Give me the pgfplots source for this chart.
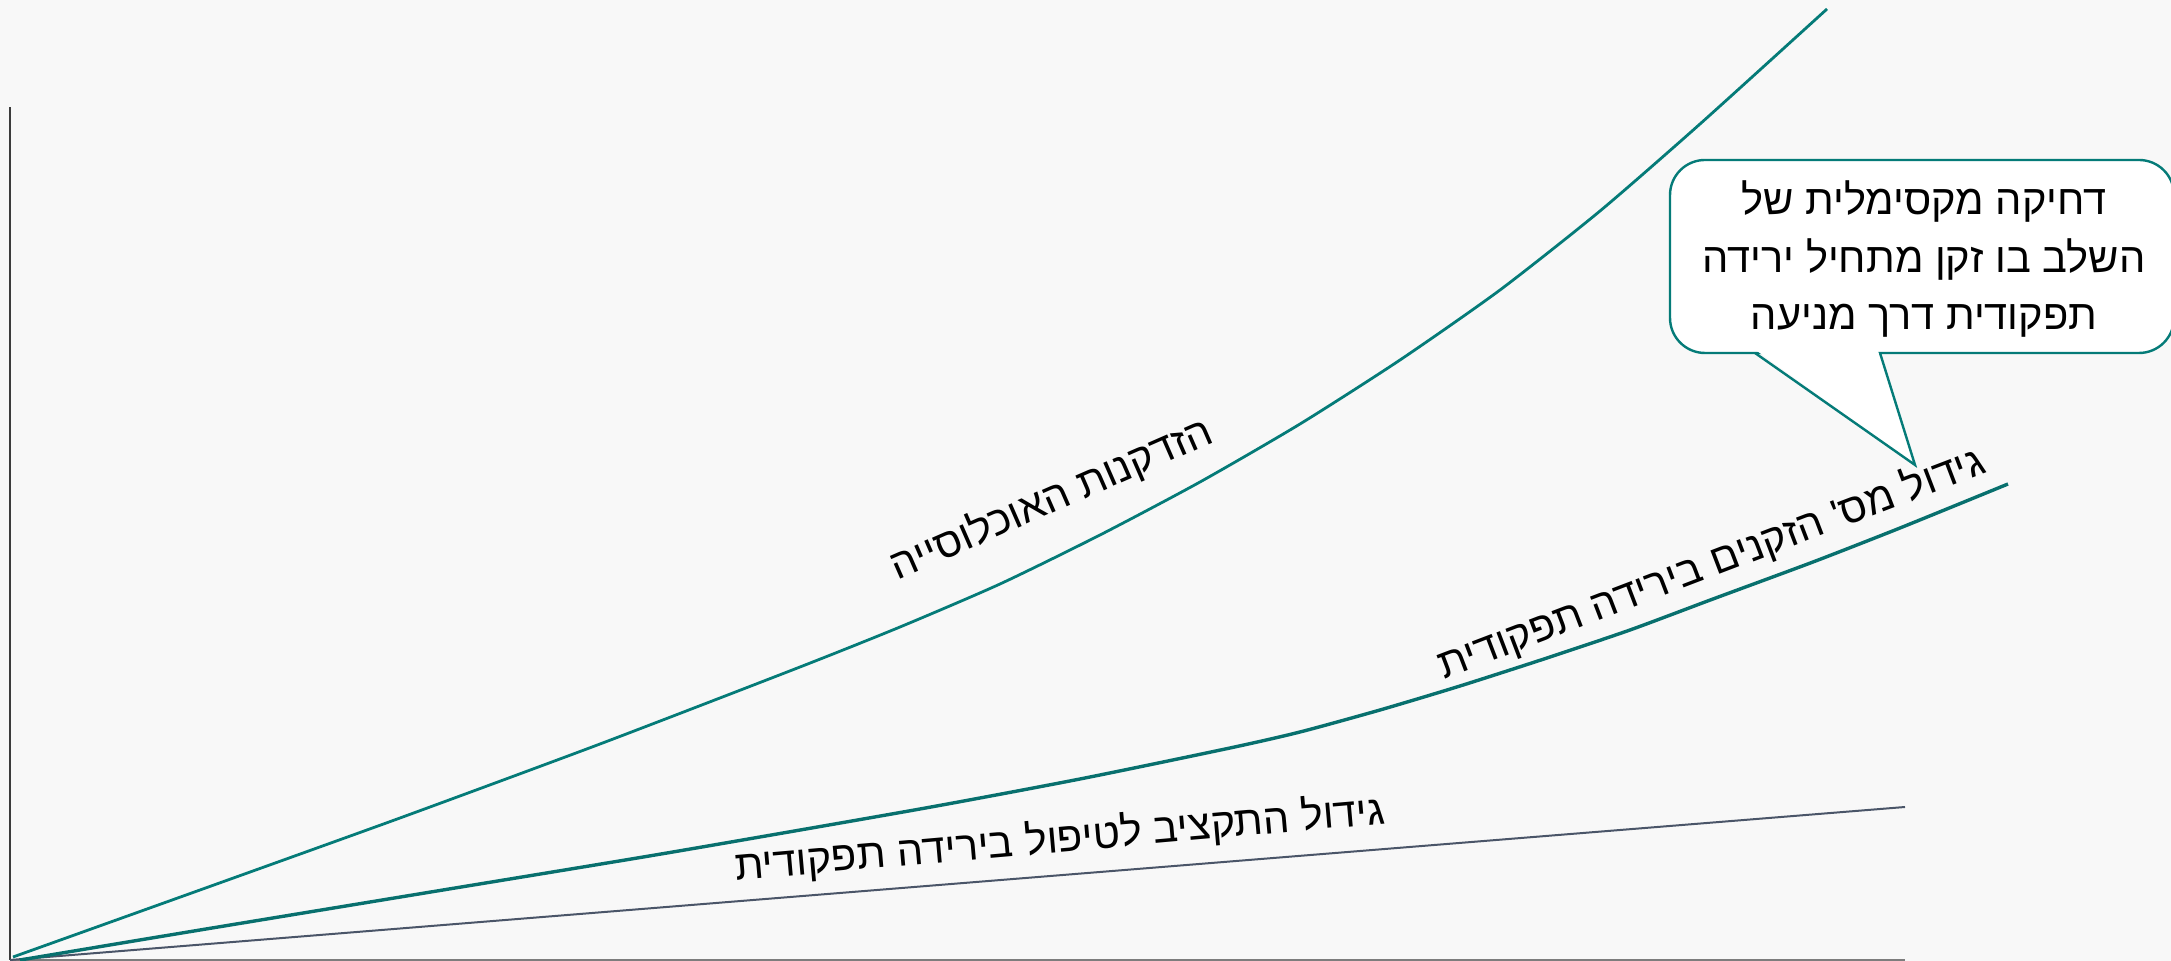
\documentclass[border=0pt]{standalone}
\usepackage{pgfplots}
\pgfplotsset{compat=1.18}
\usepackage{fontspec}
\usetikzlibrary{backgrounds}
\setmainfont{Liberation Sans}
\newfontfamily\heb[Script=Hebrew]{Liberation Sans}
\TeXXeTstate=1
\definecolor{bg}{RGB}{248,248,248}
\definecolor{tealA}{RGB}{5,123,120}
\definecolor{tealB}{RGB}{8,112,110}
\definecolor{slate}{RGB}{74,85,104}
\definecolor{xax}{RGB}{125,125,125}
\definecolor{yax}{RGB}{60,60,60}
\newcommand{\fs}{\fontsize{10.4}{13}\selectfont}
\begin{document}
\begin{tikzpicture}
\begin{axis}[
  x=0.25pt, y=0.25pt,
  xmin=10, xmax=1905, ymin=0, ymax=853,
  axis x line=bottom, axis y line=left,
  axis line style={-},
  x axis line style={draw=xax, line width=0.45pt},
  y axis line style={draw=yax, line width=0.4pt},
  ticks=none,
  clip=false,
]
\coordinate (BL) at (axis cs:0,-1);
\coordinate (TR) at (axis cs:2171,960);
% budget growth
\addplot[slate, line width=0.5pt] coordinates {(10,0) (1905,153)};
% elderly in functional decline
\addplot[tealB, line width=0.85pt, smooth, tension=0.4] coordinates {
(20,0) (200,30) (443,70) (667,107) (920,151) (1080,181) (1230,212) (1300,228)
(1380,250) (1460,274) (1547,302) (1630,330) (1713,361) (1813,398) (1900,432) (2008,476)};
% population aging
\addplot[tealA, line width=0.7pt, smooth, tension=0.4] coordinates {
(13,3) (200,70) (400,142) (600,216) (800,293) (900,333) (1000,376) (1100,425)
(1200,478) (1300,536) (1400,600) (1500,670) (1600,749) (1700,836) (1827,951)};
% labels
\node[rotate=23.6, anchor=base] at (axis cs:1057,449) {\heb\fs\beginR הזדקנות האוכלוסייה\endR};
\node[rotate=20.9, anchor=base] at (axis cs:1716,384) {\heb\fs\beginR גידול מס' הזקנים בירידה תפקודית\endR};
\node[rotate=5, anchor=base] at (axis cs:1061,108) {\heb\fs\beginR גידול התקציב לטיפול בירידה תפקודית\endR};
% callout
\draw[tealA, line width=0.6pt, fill=white, rounded corners=8.75pt] (axis cs:1670,607) rectangle (axis cs:2174,800);
\fill[white] (axis cs:1757,609) -- (axis cs:1915,495) -- (axis cs:1878,609) -- cycle;
\draw[tealA, line width=0.6pt] (axis cs:1755,607) -- (axis cs:1915,495) -- (axis cs:1880,607);
\node[anchor=base] at (axis cs:1924,745) {\heb\fs\beginR דחיקה מקסימלית של\endR};
\node[anchor=base] at (axis cs:1924,687) {\heb\fs\beginR השלב בו זקן מתחיל ירידה\endR};
\node[anchor=base] at (axis cs:1924,630) {\heb\fs\beginR תפקודית דרך מניעה\endR};
\end{axis}
\begin{scope}[on background layer]
\fill[bg] (BL) rectangle (TR);
\end{scope}
\pgfresetboundingbox
\path[use as bounding box] (BL) rectangle (TR);
\end{tikzpicture}
\end{document}
